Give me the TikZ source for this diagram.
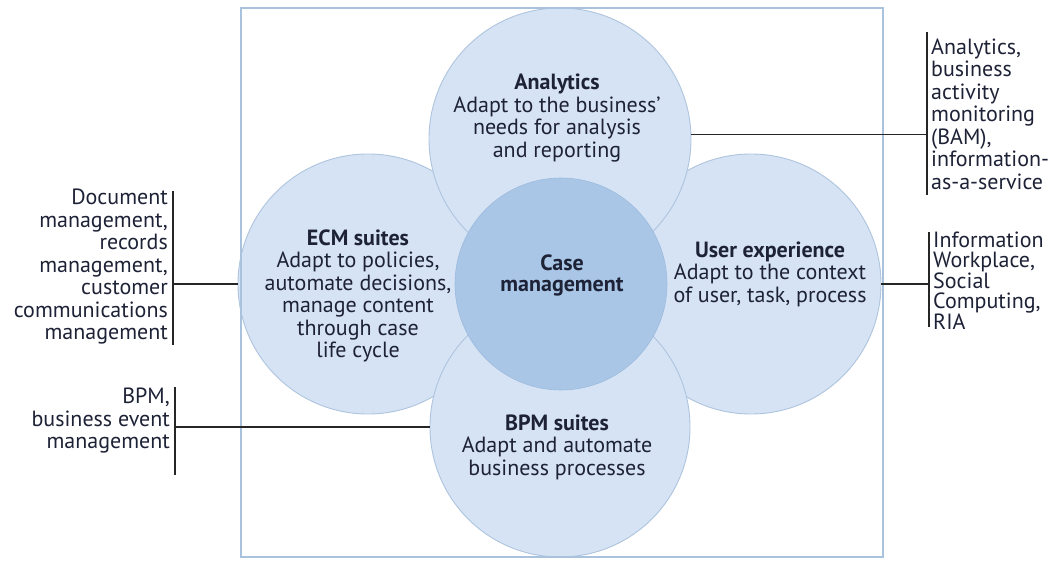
\documentclass[tikz,border=0pt]{standalone}
\usepackage{fontspec}
\setmainfont{PT Sans}
\definecolor{petalfill}{HTML}{D5E3F4}
\definecolor{petalline}{HTML}{AFC4DE}
\definecolor{corefill}{HTML}{A9C6E7}
\definecolor{coreline}{HTML}{9DBBDD}
\definecolor{framec}{HTML}{A9C3DF}
\definecolor{txt}{HTML}{1E2236}
\tikzset{
  petal/.style={circle, draw=petalline, fill=petalfill, line width=0.9pt, minimum size=260pt, inner sep=0pt},
  core/.style={circle, draw=coreline, fill=corefill, line width=0.6pt, minimum size=212pt, inner sep=0pt},
  ptext/.style={align=center, text=txt, inner sep=0pt, font=\fontsize{22}{22.5}\selectfont},
  lbl/.style={text=txt, inner sep=0pt, font=\fontsize{22}{22.5}\selectfont},
  conn/.style={draw=black!85, line width=1.3pt},
  barline/.style={draw=black!85, line width=1.8pt},
}
\begin{document}
\begin{tikzpicture}[x=1pt,y=-1pt]
\useasboundingbox (0,0) rectangle (1052,561);
\fill[white] (0,0) rectangle (1052,561);
% petals
\node[petal] (ecm) at (368,284) {};
\node[petal] (ux) at (751,284) {};
\node[petal, minimum size=262pt] (ana) at (560,139) {};
\node[petal] (bpm) at (560,427) {};
\node[core] (cm) at (561,284) {};
% frame
\draw[framec, line width=1.2pt] (241,8) rectangle (883,557);
% petal texts
\node[ptext] (ana-t) at (557,118) {\textbf{Analytics}\\Adapt to the business’\\needs for analysis\\and reporting};
\node[ptext] (ecm-t) at (358,296) {\textbf{ECM suites}\\Adapt to policies,\\automate decisions,\\manage content\\through case\\life cycle};
\node[ptext] (ux-t) at (770,274) {\textbf{User experience}\\Adapt to the context\\of user, task, process};
\node[ptext, font=\fontsize{22}{21}\selectfont] (cm-t) at (562,275) {\textbf{Case}\\\textbf{management}};
\node[ptext] (bpm-t) at (557,447) {\textbf{BPM suites}\\Adapt and automate\\business processes};
% side labels
\node[lbl, align=right, anchor=east] (ecm-l) at (168,267) {Document\\management,\\records\\management,\\customer\\communications\\management};
\node[lbl, align=right, anchor=east] (bpm-l) at (170,421) {BPM,\\business event\\management};
\node[lbl, align=left, anchor=west] (ana-l) at (931,114) {Analytics,\\business\\activity\\monitoring\\(BAM),\\information-\\as-a-service};
\node[lbl, align=left, anchor=west, font=\fontsize{22}{20}\selectfont] (ux-l) at (933,281) {Information\\Workplace,\\Social\\Computing,\\RIA};
% bars
\coordinate (ecmbt) at (173,191); \coordinate (ecmbb) at (173,345);
\coordinate (bpmbt) at (175,387); \coordinate (bpmbb) at (175,475);
\coordinate (anabt) at (927,32);  \coordinate (anabb) at (927,195);
\coordinate (uxbt) at (929,232);  \coordinate (uxbb) at (929,327);
\draw[barline] (ecmbt) -- (ecmbb);
\draw[barline] (bpmbt) -- (bpmbb);
\draw[barline] (anabt) -- (anabb);
\draw[barline] (uxbt) -- (uxbb);
% connectors
\draw[conn] (ecm.west) -- (ecm.west -| ecmbt);
\draw[conn] (bpm.west) -- (bpm.west -| bpmbt);
\draw[conn] (ana.2) -- (ana.2 -| anabt);
\draw[conn] (ux.east) -- (ux.east -| uxbt);
\end{tikzpicture}
\end{document}
